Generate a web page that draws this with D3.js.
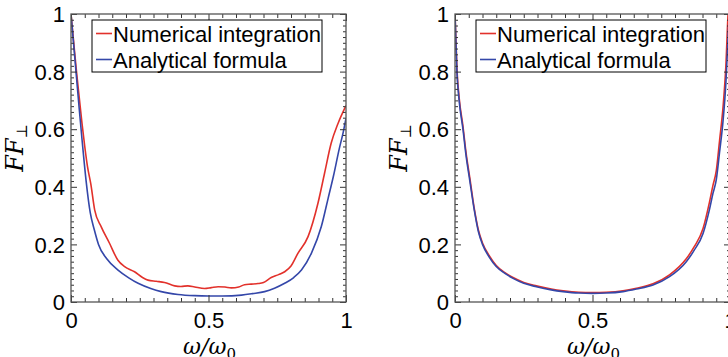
<!DOCTYPE html>
<html><head><meta charset="utf-8">
<script src="https://cdn.jsdelivr.net/npm/d3@7"></script>
<style>
html,body{margin:0;padding:0;background:#fff;overflow:hidden}
svg{display:block}
</style></head>
<body>
<svg id="chart" width="728" height="357"></svg>
<script>
// ---- data ----
const legendLabels = ["Numerical integration", "Analytical formula"];
const xTickLabels = [0, 0.5, 1];
const yTickLabels = [0, 0.2, 0.4, 0.6, 0.8, 1];

// Left panel
const leftNumX = [0, 0.01, 0.02, 0.03, 0.04, 0.05, 0.06, 0.072, 0.086, 0.11, 0.14, 0.17, 0.195, 0.231, 0.26, 0.28, 0.31, 0.34, 0.377, 0.40, 0.425, 0.45, 0.486, 0.51, 0.535, 0.56, 0.583, 0.61, 0.631, 0.655, 0.68, 0.70, 0.728, 0.755, 0.777, 0.80, 0.825, 0.862, 0.898, 0.922, 0.946, 0.971, 1.0];
const leftNumY = [1.0, 0.9, 0.8, 0.71, 0.62, 0.54, 0.47, 0.41, 0.32, 0.261, 0.204, 0.146, 0.123, 0.105, 0.085, 0.076, 0.072, 0.068, 0.056, 0.054, 0.056, 0.052, 0.047, 0.05, 0.053, 0.052, 0.049, 0.052, 0.06, 0.062, 0.064, 0.068, 0.085, 0.095, 0.105, 0.125, 0.169, 0.227, 0.343, 0.447, 0.551, 0.62, 0.682];
const leftAnaX = [0, 0.01, 0.02, 0.03, 0.04, 0.055, 0.07, 0.085, 0.1, 0.13, 0.171, 0.21, 0.244, 0.29, 0.328, 0.389, 0.45, 0.5, 0.55, 0.62, 0.66, 0.704, 0.74, 0.777, 0.81, 0.838, 0.874, 0.91, 0.935, 0.955, 0.975, 0.99, 1.0];
const leftAnaY = [1.0, 0.89, 0.78, 0.67, 0.565, 0.42, 0.31, 0.25, 0.2, 0.15, 0.111, 0.084, 0.065, 0.047, 0.036, 0.026, 0.022, 0.021, 0.021, 0.024, 0.029, 0.036, 0.048, 0.065, 0.085, 0.111, 0.169, 0.261, 0.36, 0.44, 0.53, 0.59, 0.638];

// Right panel
const rightX = [0, 0.007, 0.015, 0.029, 0.04, 0.054, 0.07, 0.085, 0.1, 0.125, 0.15, 0.18, 0.211, 0.25, 0.296, 0.35, 0.393, 0.45, 0.5, 0.55, 0.611, 0.66, 0.72, 0.78, 0.841, 0.87, 0.902, 0.925, 0.938, 0.95, 0.962, 0.975, 0.985, 0.993, 1.0];
const rightNumY = [1.0, 0.81, 0.71, 0.61, 0.52, 0.43, 0.325, 0.25, 0.205, 0.16, 0.127, 0.103, 0.085, 0.068, 0.056, 0.045, 0.039, 0.034, 0.033, 0.034, 0.039, 0.048, 0.063, 0.094, 0.15, 0.192, 0.255, 0.345, 0.405, 0.455, 0.56, 0.68, 0.82, 1.0, 1.08];
const rightAnaY = [1.0, 0.8, 0.7, 0.6, 0.51, 0.42, 0.32, 0.245, 0.2, 0.155, 0.123, 0.1, 0.082, 0.065, 0.053, 0.042, 0.036, 0.031, 0.030, 0.031, 0.036, 0.045, 0.059, 0.088, 0.14, 0.18, 0.238, 0.32, 0.377, 0.424, 0.52, 0.632, 0.76, 0.92, 1.05];

const colors = ["#e2312b", "#3447a9"];

// ---- drawing ----
const svg = d3.select("#chart");
svg.append("rect").attr("width", 728).attr("height", 357).attr("fill", "#fff");

const W = 275, H = 288, TOP = 14;
const panels = [
  {left: 71, series: [[leftNumX, leftNumY], [leftAnaX, leftAnaY]], id: "a"},
  {left: 455, series: [[rightX, rightNumY], [rightX, rightAnaY]], id: "b"}
];

const sansFont = "'Liberation Sans', Arial, Helvetica, sans-serif";
const serifFont = "'DejaVu Serif', 'Liberation Serif', serif";

panels.forEach(p => {
  const g = svg.append("g").attr("transform", `translate(${p.left},${TOP})`);
  const x = d3.scaleLinear().domain([0, 1]).range([0, W]);
  const y = d3.scaleLinear().domain([0, 1]).range([H, 0]);

  g.append("clipPath").attr("id", "clip" + p.id)
    .append("rect").attr("width", W).attr("height", H);

  const line = d3.line().x(d => x(d[0])).y(d => y(d[1])).curve(d3.curveMonotoneX);
  const lg = g.append("g").attr("clip-path", `url(#clip${p.id})`);
  p.series.forEach((s, i) => {
    const pts = s[0].map((xv, k) => [xv, s[1][k]]);
    lg.append("path").datum(pts).attr("d", line)
      .attr("fill", "none").attr("stroke", colors[i]).attr("stroke-width", 1.6)
      .attr("stroke-linejoin", "round");
  });

  // minor ticks (inward) on all four sides
  const xMinor = d3.range(0, 1.0001, 0.05);
  const yMinor = d3.range(0, 1.0001, 0.02);
  const isMajorX = v => Math.abs(v * 2 - Math.round(v * 2)) < 1e-6;
  const isMajorY = v => Math.abs(v * 5 - Math.round(v * 5)) < 1e-6;

  const axStyle = sel => {
    sel.select(".domain").remove();
    sel.selectAll(".tick line").attr("stroke", "#333").attr("stroke-width", 1);
    sel.selectAll(".tick text").remove();
  };
  g.append("g").attr("transform", `translate(0,${H})`)
    .call(d3.axisBottom(x).tickValues(xMinor).tickSize(-4)).call(axStyle)
    .selectAll(".tick line").attr("y2", d => isMajorX(d) ? -7 : -4);
  g.append("g")
    .call(d3.axisTop(x).tickValues(xMinor).tickSize(-4)).call(axStyle)
    .selectAll(".tick line").attr("y2", d => isMajorX(d) ? 7 : 4);
  g.append("g")
    .call(d3.axisLeft(y).tickValues(yMinor).tickSize(-3)).call(axStyle)
    .selectAll(".tick line").attr("x2", d => isMajorY(d) ? 6 : 3);
  g.append("g").attr("transform", `translate(${W},0)`)
    .call(d3.axisRight(y).tickValues(yMinor).tickSize(-3)).call(axStyle)
    .selectAll(".tick line").attr("x2", d => isMajorY(d) ? -6 : -3);

  // frame
  g.append("rect").attr("width", W).attr("height", H)
    .attr("fill", "none").attr("stroke", "#555").attr("stroke-width", 1.3);

  // tick labels via axes
  const fmt = d => d3.format("~g")(d);
  const xl = g.append("g").attr("transform", `translate(0,${H})`)
    .call(d3.axisBottom(x).tickValues(xTickLabels).tickSize(0).tickPadding(0).tickFormat(fmt));
  xl.select(".domain").remove();
  xl.selectAll(".tick text").attr("font-family", sansFont).attr("font-size", 22)
    .attr("fill", "#000").attr("dy", null).attr("y", 26);

  const yl = g.append("g")
    .call(d3.axisLeft(y).tickValues(yTickLabels).tickSize(0).tickPadding(6).tickFormat(fmt));
  yl.select(".domain").remove();
  yl.selectAll(".tick text").attr("font-family", sansFont).attr("font-size", 22)
    .attr("fill", "#000").attr("dy", "0.35em");

  // axis titles
  const xt = g.append("text").attr("x", W / 2 + 1).attr("y", 340)
    .attr("text-anchor", "middle").attr("font-family", serifFont)
    .attr("font-size", 22).attr("font-style", "italic").attr("fill", "#000");
  xt.append("tspan").text("ω/ω");
  xt.append("tspan").attr("dy", 5).attr("font-size", 15).attr("font-style", "normal").text("0");

  const yt = g.append("text").attr("transform", `translate(-48,${134}) rotate(-90)`)
    .attr("text-anchor", "middle").attr("font-family", serifFont)
    .attr("font-size", 24).attr("font-style", "italic").attr("fill", "#000");
  yt.append("tspan").text("FF");
  yt.append("tspan").attr("dy", 4).attr("font-size", 15).attr("font-style", "normal").text("⊥");

  // legend
  const leg = g.append("g").attr("transform", "translate(21,6)");
  leg.append("rect").attr("width", 230).attr("height", 52)
    .attr("fill", "#fff").attr("stroke", "#000").attr("stroke-width", 1);
  legendLabels.forEach((lab, i) => {
    const yy = 13.5 + i * 26;
    leg.append("line").attr("x1", 4).attr("x2", 20).attr("y1", yy).attr("y2", yy)
      .attr("stroke", colors[i]).attr("stroke-width", 1.6);
    leg.append("text").attr("x", 21).attr("y", yy + 8)
      .attr("font-family", sansFont).attr("font-size", 22).attr("fill", "#000").text(lab);
  });
});
</script>
</body></html>
